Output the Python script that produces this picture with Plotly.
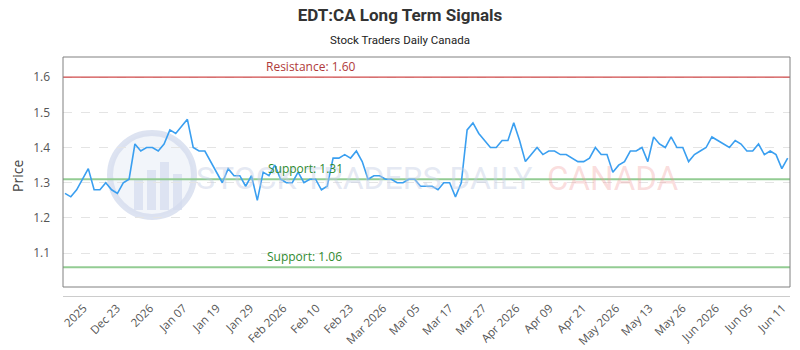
import plotly.graph_objects as go

# ---------------- data ----------------
prices = [
    1.27, 1.26, 1.28, 1.31, 1.34, 1.28, 1.28, 1.30, 1.28, 1.27,
    1.30, 1.31, 1.41, 1.39, 1.40, 1.40, 1.39, 1.41, 1.45, 1.44,
    1.46, 1.48, 1.40, 1.39, 1.39, 1.36, 1.33, 1.30, 1.34, 1.32,
    1.32, 1.29, 1.32, 1.25, 1.33, 1.32, 1.35, 1.31, 1.30, 1.30,
    1.33, 1.30, 1.31, 1.31, 1.28, 1.29, 1.37, 1.37, 1.38, 1.37,
    1.39, 1.36, 1.31, 1.32, 1.32, 1.31, 1.31, 1.30, 1.30, 1.31,
    1.31, 1.29, 1.29, 1.29, 1.28, 1.30, 1.30, 1.26, 1.30, 1.45,
    1.47, 1.44, 1.42, 1.40, 1.40, 1.42, 1.42, 1.47, 1.42, 1.36,
    1.38, 1.40, 1.38, 1.39, 1.39, 1.38, 1.38, 1.37, 1.36, 1.36,
    1.37, 1.40, 1.38, 1.38, 1.33, 1.35, 1.36, 1.39, 1.39, 1.40,
    1.36, 1.43, 1.41, 1.40, 1.43, 1.40, 1.40, 1.36, 1.38, 1.39,
    1.40, 1.43, 1.42, 1.41, 1.40, 1.42, 1.41, 1.39, 1.39, 1.41,
    1.38, 1.39, 1.38, 1.34, 1.37,
]
x_idx = list(range(len(prices)))

tick_labels = [
    "2025", "Dec 23", "2026", "Jan 07", "Jan 19", "Jan 29", "Feb 2026",
    "Feb 10", "Feb 23", "Mar 2026", "Mar 05", "Mar 17", "Mar 27",
    "Apr 2026", "Apr 09", "Apr 21", "May 2026", "May 13", "May 26",
    "Jun 2026", "Jun 05", "Jun 11",
]
tick_first = 3.2
tick_step = 5.71
tick_pos = [round(tick_first + tick_step * k, 2) for k in range(len(tick_labels))]

y_ticks = [1.1, 1.2, 1.3, 1.4, 1.5, 1.6]

resistance = 1.60
support_hi = 1.31
support_lo = 1.06

# ---------------- layout geometry ----------------
W, H = 800, 350
PLOT_L, PLOT_R = 63, 790
PAPER_TOP, PAPER_BOTTOM, PLOT_BOTTOM = 57, 296, 287
paper_h = PAPER_BOTTOM - PAPER_TOP
dom0 = (PAPER_BOTTOM - PLOT_BOTTOM) / paper_h


def px_x(px):
    return (px - PLOT_L) / (PLOT_R - PLOT_L)


def px_y(py):
    return (PAPER_BOTTOM - py) / paper_h


LABEL_FONT = "Open Sans, Noto Sans, sans-serif"
WM_FONT = "Roboto, sans-serif"

fig = go.Figure()
fig.add_trace(go.Scatter(
    x=x_idx, y=prices, mode="lines",
    line=dict(color="#3a9ff0", width=1.6),
    hoverinfo="skip",
))

shapes = []
# watermark logo circle
shapes.append(dict(type="circle", xref="paper", yref="paper",
                   x0=px_x(110), x1=px_x(194), y0=px_y(217), y1=px_y(133),
                   fillcolor="rgba(232,236,246,0.55)",
                   line=dict(color="rgba(212,220,238,0.8)", width=6),
                   layer="below"))
for bx, btop in [(134, 180), (147, 170), (160, 162), (173, 174)]:
    shapes.append(dict(type="rect", xref="paper", yref="paper",
                       x0=px_x(bx), x1=px_x(bx + 9), y0=px_y(210), y1=px_y(btop),
                       fillcolor="rgba(212,220,238,0.7)", line=dict(width=0),
                       layer="below"))
# level lines
shapes.append(dict(type="line", xref="paper", yref="y", x0=0, x1=1,
                   y0=resistance, y1=resistance,
                   line=dict(color="#d04a4a", width=1.2), layer="above"))
for lvl in (support_hi, support_lo):
    shapes.append(dict(type="line", xref="paper", yref="y", x0=0, x1=1,
                       y0=lvl, y1=lvl,
                       line=dict(color="#93cc93", width=2), layer="below"))
# plot frame
shapes.append(dict(type="rect", xref="paper", yref="y domain",
                   x0=0, x1=1, y0=0, y1=1,
                   line=dict(color="#808080", width=1), fillcolor="rgba(0,0,0,0)",
                   layer="above"))

annotations = [
    # subtitle
    dict(text="Stock Traders Daily Canada", xref="paper", yref="paper",
         x=px_x(400), y=px_y(40), xanchor="center", yanchor="middle",
         showarrow=False, font=dict(family="Roboto, sans-serif", size=11.5, color="#222")),
    # y-axis title
    dict(text="Price", xref="paper", yref="paper",
         x=px_x(17), y=px_y(176), xanchor="center", yanchor="middle", textangle=-90,
         showarrow=False, font=dict(family=LABEL_FONT, size=14, color="#444")),
    # watermark text
    dict(text="STOCK TRADERS DAILY", xref="paper", yref="paper",
         x=px_x(194), y=px_y(178), xanchor="left", yanchor="middle",
         showarrow=False,
         font=dict(family=WM_FONT, size=32, color="rgba(196,206,228,0.45)")),
    dict(text="CANADA", xref="paper", yref="paper",
         x=px_x(545), y=px_y(178), xanchor="left", yanchor="middle",
         showarrow=False,
         font=dict(family=WM_FONT, size=33, color="rgba(242,150,150,0.32)")),
    # level labels
    dict(text=f"Resistance: {resistance:.2f}", xref="paper", yref="y",
         x=px_x(311), y=resistance, xanchor="center", yanchor="bottom",
         showarrow=False, font=dict(family=LABEL_FONT, size=12, color="#b03a3a")),
    dict(text=f"Support: {support_hi:.2f}", xref="paper", yref="y",
         x=px_x(305), y=support_hi, xanchor="center", yanchor="bottom",
         showarrow=False, font=dict(family=LABEL_FONT, size=12, color="#2f8a2f")),
    dict(text=f"Support: {support_lo:.2f}", xref="paper", yref="y",
         x=px_x(304), y=support_lo, xanchor="center", yanchor="bottom",
         showarrow=False, font=dict(family=LABEL_FONT, size=12, color="#2f8a2f")),
]

fig.update_layout(
    width=W, height=H,
    margin=dict(l=PLOT_L, r=W - PLOT_R, t=PAPER_TOP, b=H - PAPER_BOTTOM, pad=0,
                autoexpand=False),
    paper_bgcolor="white", plot_bgcolor="white",
    showlegend=False,
    title=dict(text="<b>EDT:CA Long Term Signals</b>", xref="container", x=0.5,
               yref="container", y=1 - 15 / H, xanchor="center", yanchor="middle",
               font=dict(family="Roboto, sans-serif", size=17, color="#333")),
    xaxis=dict(
        range=[-0.34, 124.4], anchor="free", position=0, automargin=False,
        tickmode="array", tickvals=tick_pos, ticktext=tick_labels,
        tickangle=-45, ticks="", showgrid=False, zeroline=False,
        showline=True, linecolor="#cccccc", linewidth=1,
        tickfont=dict(family=LABEL_FONT, size=11.5, color="#555"),
    ),
    yaxis=dict(
        domain=[dom0, 1], range=[1.004, 1.657], automargin=False,
        tickmode="array", tickvals=y_ticks, ticktext=[f"{v:.1f}" for v in y_ticks],
        ticks="", ticklabelstandoff=12,
        showgrid=True, gridcolor="#e4e4e4", griddash="dash", gridwidth=1,
        zeroline=False, showline=False,
        tickfont=dict(family=LABEL_FONT, size=12, color="#555"),
    ),
    shapes=shapes,
    annotations=annotations,
)

fig.write_html("out.html")
